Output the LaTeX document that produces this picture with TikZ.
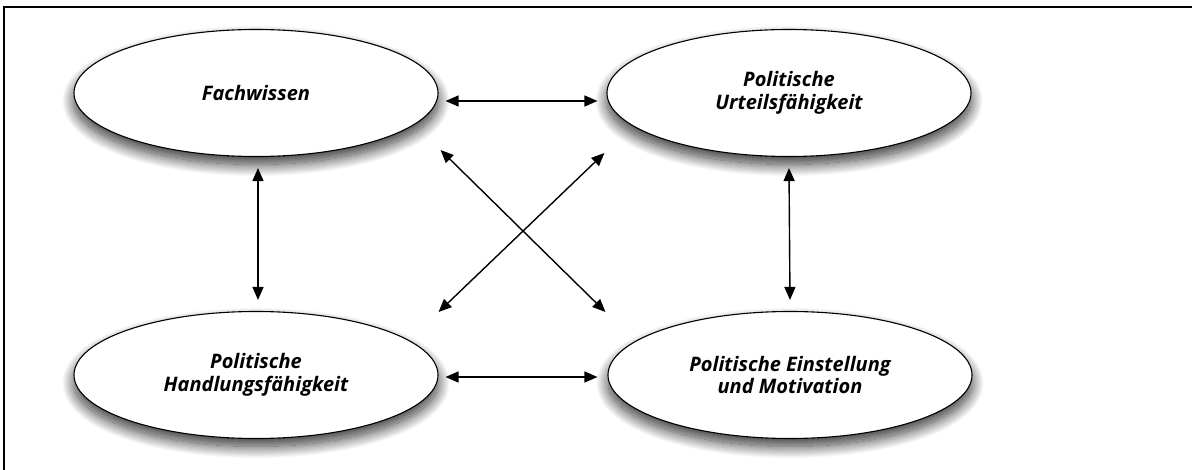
\documentclass[tikz,border=0pt]{standalone}
\usepackage{fontspec}
\setmainfont{Open Sans}
\usetikzlibrary{shapes.geometric,arrows.meta,shadows.blur}

\begin{document}
\begin{tikzpicture}[x=1pt,y=-1pt]
   \tikzstyle{every node}=[font=\fontsize{20}{23}\selectfont\bfseries\itshape, align=center]
   \tikzstyle{competence}=[draw, ellipse, line width=1.1pt, fill=white, minimum width=364pt, minimum height=127pt,
       blur shadow={shadow xshift=0pt, shadow yshift=-8pt, shadow blur radius=12pt, shadow blur steps=25, shadow opacity=80}]
   \tikzstyle{biarrow}=[line width=1.4pt, {Triangle[length=13pt,width=11pt]}-{Triangle[length=13pt,width=11pt]}]

\useasboundingbox (0,0) rectangle (1192,470);
\draw[line width=1.5pt] (4,470) -- (4,7) -- (1192,7);

\node[competence] (fach) at (256,93) {Fachwissen};
\node[competence] (urteil) at (789,93) {Politische\\Urteilsfähigkeit};
\node[competence] (hand) at (256,375) {Politische\\Handlungsfähigkeit};
\node[competence] (einst) at (790,375) {Politische Einstellung\\und Motivation};

\draw[biarrow] ([xshift=7pt,yshift=-8pt]fach.east) -- ([xshift=-9pt,yshift=-8pt]urteil.west);
\draw[biarrow] ([xshift=7pt,yshift=-2pt]hand.east) -- ([xshift=-10pt,yshift=-2pt]einst.west);
\draw[biarrow] ([xshift=2pt,yshift=-11pt]fach.south) -- ([xshift=2pt,yshift=11pt]hand.north);
\draw[biarrow] ([yshift=-11pt]urteil.south) -- ([yshift=11pt]einst.north);
\draw[biarrow] ([xshift=2pt,yshift=-57pt]fach.east) -- ([xshift=-2pt,yshift=63pt]einst.west);
\draw[biarrow] ([xshift=-2pt,yshift=-60pt]urteil.west) -- ([yshift=63pt]hand.east);

\end{tikzpicture}
\end{document}
